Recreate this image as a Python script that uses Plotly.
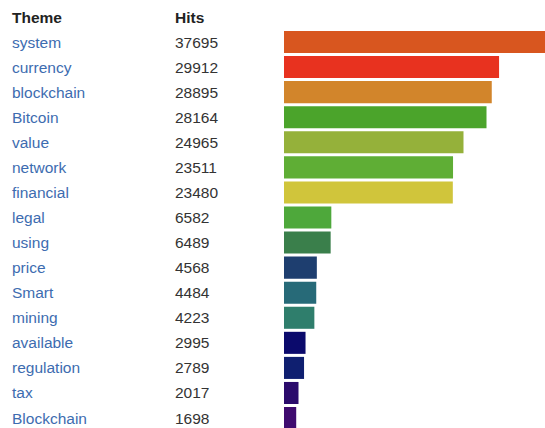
import plotly.graph_objects as go

themes = ["system", "currency", "blockchain", "Bitcoin", "value", "network", "financial",
          "legal", "using", "price", "Smart", "mining", "available", "regulation", "tax", "Blockchain"]
hits = [37695, 29912, 28895, 28164, 24965, 23511, 23480,
        6582, 6489, 4568, 4484, 4223, 2995, 2789, 2017, 1698]
bar_colors = ["#d8561f", "#e8321f", "#d2852b", "#4ba42b", "#95b13a", "#5fae35", "#d0c53b",
              "#4ea83b", "#3a7f4b", "#1e3e6f", "#276a78", "#2f7e6c", "#0b0a6c", "#0f1f70", "#2b0b6c", "#3f0b6f"]
headers = ["Theme", "Hits"]

W, H = 545, 428
row0, step = 42, 25.07
rtop = -row0 / step
rbot = rtop + H / step
FS = 15.5

fig = go.Figure(go.Bar(
    x=hits, y=list(range(len(themes))), orientation="h",
    marker=dict(color=bar_colors, line=dict(width=0)),
    width=0.88, hoverinfo="skip",
))

ann = []
for i, (t, h) in enumerate(zip(themes, hits)):
    ann.append(dict(x=(12 - 2) / W, y=i, xref="paper", yref="y", text=t, showarrow=False,
                    xanchor="left", yanchor="middle",
                    font=dict(family="Liberation Sans, Arial", size=FS, color="#3d6cb0")))
    ann.append(dict(x=(175 - 2) / W, y=i, xref="paper", yref="y", text=str(h), showarrow=False,
                    xanchor="left", yanchor="middle",
                    font=dict(family="Liberation Sans, Arial", size=FS, color="#333333")))
for hx, txt in zip([12, 175], headers):
    ann.append(dict(x=(hx - 2) / W, y=1 - 18 / H, xref="paper", yref="paper",
                    text="<b>" + txt + "</b>",
                    showarrow=False, xanchor="left", yanchor="middle",
                    font=dict(family="Liberation Sans, Arial", size=FS, color="#222222")))

fig.update_layout(
    width=W, height=H, margin=dict(l=0, r=0, t=0, b=0),
    paper_bgcolor="white", plot_bgcolor="white", showlegend=False,
    xaxis=dict(domain=[284 / W, 1], range=[0, 261 / 0.00719], visible=False, fixedrange=True),
    yaxis=dict(range=[rbot, rtop], visible=False, fixedrange=True),
    annotations=ann,
)

fig.write_html("out.html", config={"displayModeBar": False},
               post_script="document.body.style.margin='0';document.body.style.overflow='hidden';")
